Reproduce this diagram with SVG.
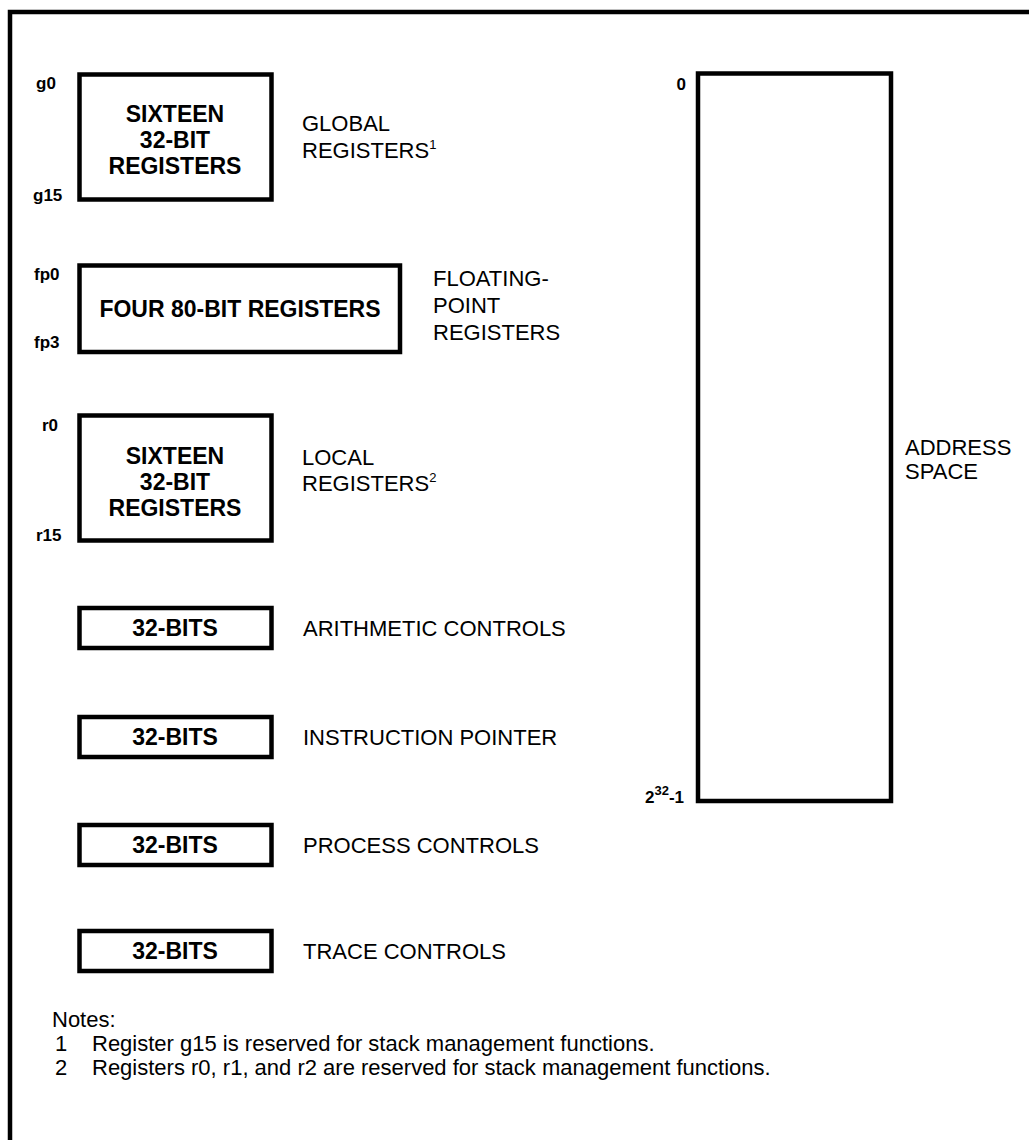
<svg xmlns="http://www.w3.org/2000/svg" width="1029" height="1140" viewBox="0 0 1029 1140">
<style>
.box{fill:#fff;stroke:#000;stroke-width:4.5}
.bt{font-family:"Liberation Sans",Arial,sans-serif;font-weight:bold;font-size:23px;text-anchor:middle;fill:#000}
.lb{font-family:"Liberation Sans",Arial,sans-serif;font-size:22px;fill:#000}
.nt{font-family:"Liberation Sans",Arial,sans-serif;font-size:22px;fill:#000}
.ix{font-family:"Liberation Sans",Arial,sans-serif;font-weight:bold;font-size:17px;fill:#000}
.sup{font-size:13px}
</style>
<rect width="1029" height="1140" fill="#fff"/>
<path d="M10,1140 V12 H1029" fill="none" stroke="#000" stroke-width="4.5"/>
<g id="global">
<rect class="box" x="79.5" y="74.5" width="192" height="125"/>
<text class="ix" x="36" y="89">g0</text>
<text class="ix" x="33" y="201">g15</text>
<text class="bt" x="175" y="122">SIXTEEN</text>
<text class="bt" x="175" y="148">32-BIT</text>
<text class="bt" x="175" y="174">REGISTERS</text>
<text class="lb" x="302" y="131">GLOBAL</text>
<text class="lb" x="302" y="158">REGISTERS<tspan class="sup" dy="-9">1</tspan></text>
</g>
<g id="fp">
<rect class="box" x="79.5" y="265.5" width="320.5" height="86.5"/>
<text class="ix" x="34" y="280">fp0</text>
<text class="ix" x="34" y="348">fp3</text>
<text class="bt" x="240" y="317">FOUR 80-BIT REGISTERS</text>
<text class="lb" x="433" y="286">FLOATING-</text>
<text class="lb" x="433" y="313">POINT</text>
<text class="lb" x="433" y="340">REGISTERS</text>
</g>
<g id="local">
<rect class="box" x="79.5" y="415.5" width="192" height="125"/>
<text class="ix" x="42" y="431">r0</text>
<text class="ix" x="36" y="541">r15</text>
<text class="bt" x="175" y="464">SIXTEEN</text>
<text class="bt" x="175" y="490">32-BIT</text>
<text class="bt" x="175" y="516">REGISTERS</text>
<text class="lb" x="302" y="465">LOCAL</text>
<text class="lb" x="302" y="491">REGISTERS<tspan class="sup" dy="-9">2</tspan></text>
</g>
<g id="arith">
<rect class="box" x="79.5" y="608" width="192" height="40"/>
<text class="bt" x="175" y="636">32-BITS</text>
<text class="lb" x="303" y="636">ARITHMETIC CONTROLS</text>
</g>
<g id="ip">
<rect class="box" x="79.5" y="717" width="192" height="40"/>
<text class="bt" x="175" y="745">32-BITS</text>
<text class="lb" x="303" y="745">INSTRUCTION POINTER</text>
</g>
<g id="pc">
<rect class="box" x="79.5" y="825" width="192" height="40"/>
<text class="bt" x="175" y="853">32-BITS</text>
<text class="lb" x="303" y="853">PROCESS CONTROLS</text>
</g>
<g id="tc">
<rect class="box" x="79.5" y="931" width="192" height="40"/>
<text class="bt" x="175" y="959">32-BITS</text>
<text class="lb" x="303" y="959">TRACE CONTROLS</text>
</g>
<g id="address">
<rect class="box" x="698" y="73.5" width="193" height="727.5"/>
<text class="ix" x="686" y="90" text-anchor="end">0</text>
<text class="ix" x="684" y="803" text-anchor="end">2<tspan class="sup" dy="-8">32</tspan><tspan dy="8">-1</tspan></text>
<text class="lb" x="905" y="455">ADDRESS</text>
<text class="lb" x="905" y="479">SPACE</text>
</g>
<g id="connectors"></g>
<g id="notes">
<text class="nt" x="52" y="1027">Notes:</text>
<text class="nt" x="55" y="1051">1</text>
<text class="nt" x="92" y="1051">Register g15 is reserved for stack management functions.</text>
<text class="nt" x="55" y="1075">2</text>
<text class="nt" x="92" y="1075">Registers r0, r1, and r2 are reserved for stack management functions.</text>
</g>
</svg>
